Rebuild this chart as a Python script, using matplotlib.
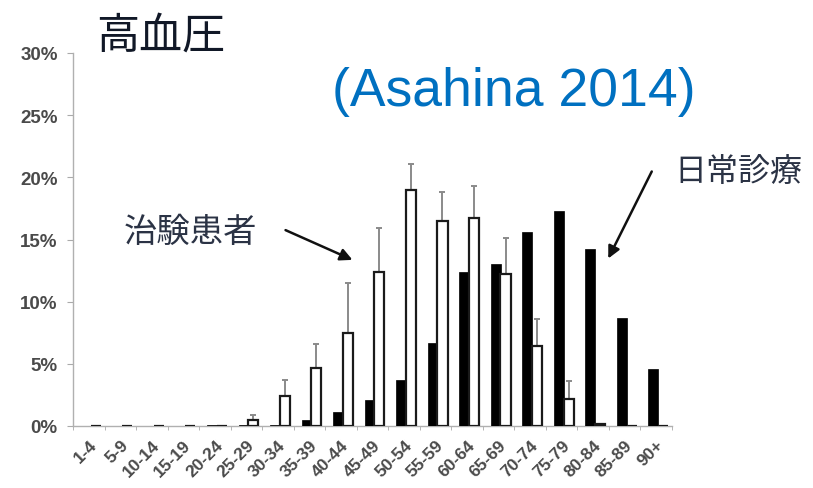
import matplotlib
matplotlib.use("Agg")
import matplotlib.pyplot as plt
import numpy as np

categories = ['1-4', '5-9', '10-14', '15-19', '20-24', '25-29', '30-34', '35-39',
              '40-44', '45-49', '50-54', '55-59', '60-64', '65-69', '70-74',
              '75-79', '80-84', '85-89', '90+']
routine = [0, 0, 0, 0, 0.05, 0.1, 0.1, 0.5, 1.1, 2.1, 3.7, 6.7, 12.4, 13.0,
           15.6, 17.3, 14.2, 8.7, 4.6]
trial = [0, 0, 0, 0, 0, 0.5, 2.4, 4.7, 7.5, 12.4, 19.0, 16.5, 16.7, 12.2,
         6.4, 2.2, 0.2, 0, 0]
trial_err = [0, 0, 0, 0, 0, 0.4, 1.3, 1.9, 4.0, 3.5, 2.1, 2.3, 2.6, 2.9,
             2.2, 1.4, 0, 0, 0]
yticks = [0, 5, 10, 15, 20, 25, 30]

W, H = 813, 489
fig = plt.figure(figsize=(W / 100, H / 100), dpi=100)
ax = fig.add_axes([73 / W, 1 - 427 / H, (672 - 73) / W, (427 - 54) / H])

x = np.arange(len(categories))
bw = 0.32
ax.bar(x - 0.09, routine, width=bw, color='#000000', edgecolor='#000000', linewidth=0.5, zorder=3)
ax.bar(x + 0.22, trial, width=bw, color='white', edgecolor='#1a1a1a', linewidth=1.6, zorder=3)

idx = [i for i, e in enumerate(trial_err) if e > 0]
ax.errorbar(x[idx] + 0.22, [trial[i] for i in idx],
            yerr=[[0] * len(idx), [trial_err[i] for i in idx]],
            fmt='none', ecolor='#8a8a8a', elinewidth=1.4, capsize=2.5, capthick=1.4, zorder=2)

ax.set_xlim(-0.5, len(categories) - 0.5)
ax.set_ylim(0, 30)
ax.set_yticks(yticks)
ax.set_yticklabels([f'{v}%' for v in yticks], fontsize=13.5, fontweight='bold',
                   color='#4a4a4a', family='Liberation Sans')
ax.set_xticks(x)
ax.set_xticklabels(categories, rotation=45, ha='right', rotation_mode='anchor',
                   fontsize=12.5, fontweight='bold', color='#4a4a4a', family='Liberation Sans')
ax.set_xticks(np.arange(-0.5, len(categories)), minor=True)
ax.tick_params(axis='x', which='major', length=0, pad=8)
ax.tick_params(axis='x', which='minor', length=3, color='#aaaaaa', direction='out')
ax.tick_params(axis='y', length=4, color='#aaaaaa', pad=7)
for s in ['top', 'right']:
    ax.spines[s].set_visible(False)
for s in ['left', 'bottom']:
    ax.spines[s].set_color('#b0b0b0')
    ax.spines[s].set_linewidth(1.0)

jp = ['Noto Sans CJK JP', 'DejaVu Sans']
fig.text(96 / W, 1 - 49 / H, '高血圧', fontsize=31, color='#111827', family=jp, ha='left', va='baseline')
fig.text(332 / W, 1 - 92 / H, '(Asahina 2014)', fontsize=38.5, color='#0070C0',
         family='Liberation Sans', ha='left', va='center')
fig.text(124 / W, 1 - 232 / H, '治験患者', fontsize=24, color='#2b3345', family=jp, ha='left', va='center')
fig.text(674 / W, 1 - 172 / H, '日常診療', fontsize=23, color='#2b3345', family=jp, ha='left', va='center')

arrowprops = dict(arrowstyle='-|>', color='#111111', lw=1.8, mutation_scale=18)
fig.add_artist(matplotlib.patches.FancyArrowPatch((283 / W, 1 - 230 / H), (355 / W, 1 - 262 / H),
                                                  transform=fig.transFigure, **arrowprops))
fig.add_artist(matplotlib.patches.FancyArrowPatch((653 / W, 1 - 170 / H), (607 / W, 1 - 262 / H),
                                                  transform=fig.transFigure, **arrowprops))

fig.savefig('out.png', dpi=100, facecolor='white')
